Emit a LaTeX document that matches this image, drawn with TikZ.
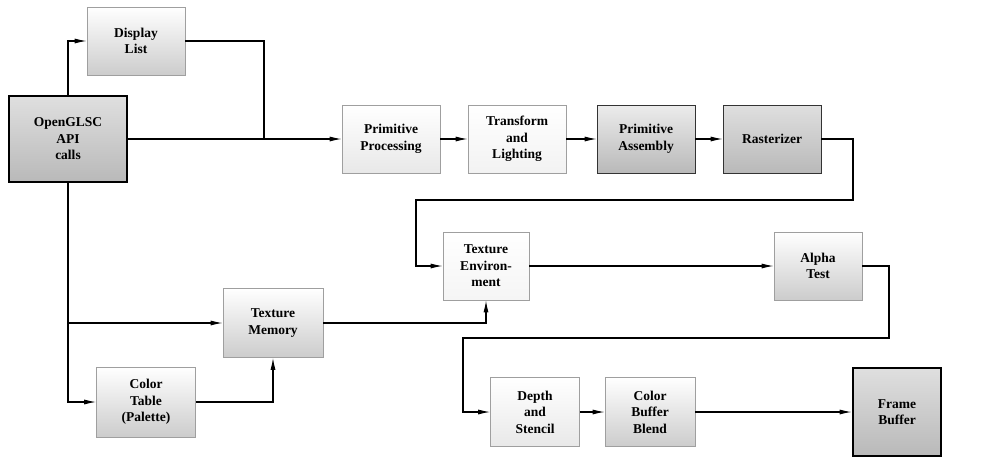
\documentclass[tikz,border=0pt]{standalone}
\usepackage{fontspec}
\setmainfont{Liberation Serif}
\usetikzlibrary{arrows.meta}
\begin{document}
\begin{tikzpicture}[x=1pt,y=-1pt,
  box/.style={draw=gray!75, line width=0.6pt, align=center, inner sep=0pt,
     font=\fontsize{13.5}{16.5}\selectfont\bfseries, minimum width=98pt, minimum height=68pt},
  lightbox/.style={box, top color=white, bottom color=gray!18},
  midbox/.style={box, top color=white, bottom color=gray!40},
  darkbox/.style={box, draw=black!80, top color=gray!25, bottom color=gray!55},
  heavy/.style={draw=black, line width=2.6pt},
  arr/.style={draw=black, line width=1.1pt, -{Latex[length=12pt,width=5pt]}},
  ln/.style={draw=black, line width=1.1pt}]
\useasboundingbox (0,0) rectangle (999,459);
% nodes
\node[midbox, minimum width=98pt, minimum height=68pt] (dl) at (136,41) {Display\\List};
\node[darkbox, heavy, minimum width=118pt, minimum height=86pt] (ogl) at (68,139) {OpenGLSC\\API\\calls};
\node[lightbox] (pp) at (391,139) {Primitive\\Processing};
\node[lightbox, bottom color=gray!10] (tl) at (517,139) {Transform\\and\\Lighting};
\node[darkbox, top color=gray!15] (pa) at (646,139) {Primitive\\Assembly};
\node[darkbox] (ras) at (772,139) {Rasterizer};
\node[lightbox, bottom color=gray!8, minimum width=86pt] (te) at (486,266) {Texture\\Environ-\\ment};
\node[midbox, minimum width=88pt] (at) at (818,266) {Alpha\\Test};
\node[midbox, minimum width=100pt, minimum height=69pt] (tm) at (273,323) {Texture\\Memory};
\node[midbox, minimum width=99pt, minimum height=70pt] (ct) at (146,402) {Color\\Table\\(Palette)};
\node[lightbox, minimum width=89pt, minimum height=69pt] (ds) at (535,412) {Depth\\and\\Stencil};
\node[midbox, minimum width=90pt, minimum height=69pt] (cbb) at (650,412) {Color\\Buffer\\Blend};
\node[darkbox, heavy, minimum width=88pt, minimum height=88pt] (fb) at (897,412) {Frame\\Buffer};
% junction coordinates
\coordinate (j1) at (264,139);
\coordinate (r1) at (853,200);
\coordinate (r2) at (416,200);
\coordinate (a1) at (889,338);
\coordinate (a2) at (463,338);
\coordinate (j2) at (68,323);
% connectors
\draw[arr] (ogl.north) |- (dl.west);
\draw[ln] (dl.east) -| (j1);
\draw[arr] (ogl.east) -- (pp.west);
\draw[arr] (pp) -- (tl);
\draw[arr] (tl) -- (pa);
\draw[arr] (pa) -- (ras);
\draw[arr] (ras.east) -| (r1) -- (r2) |- (te.west);
\draw[arr] (te) -- (at);
\draw[arr] (at.east) -| (a1) -- (a2) |- (ds.west);
\draw[arr] (ds) -- (cbb);
\draw[arr] (cbb) -- (fb);
\draw[arr] (ogl.south) |- (ct.west);
\draw[arr] (j2) -- (tm.west);
\draw[arr] (ct.east) -| (tm.south);
\draw[arr] (tm.east) -| (te.south);
\end{tikzpicture}
\end{document}
